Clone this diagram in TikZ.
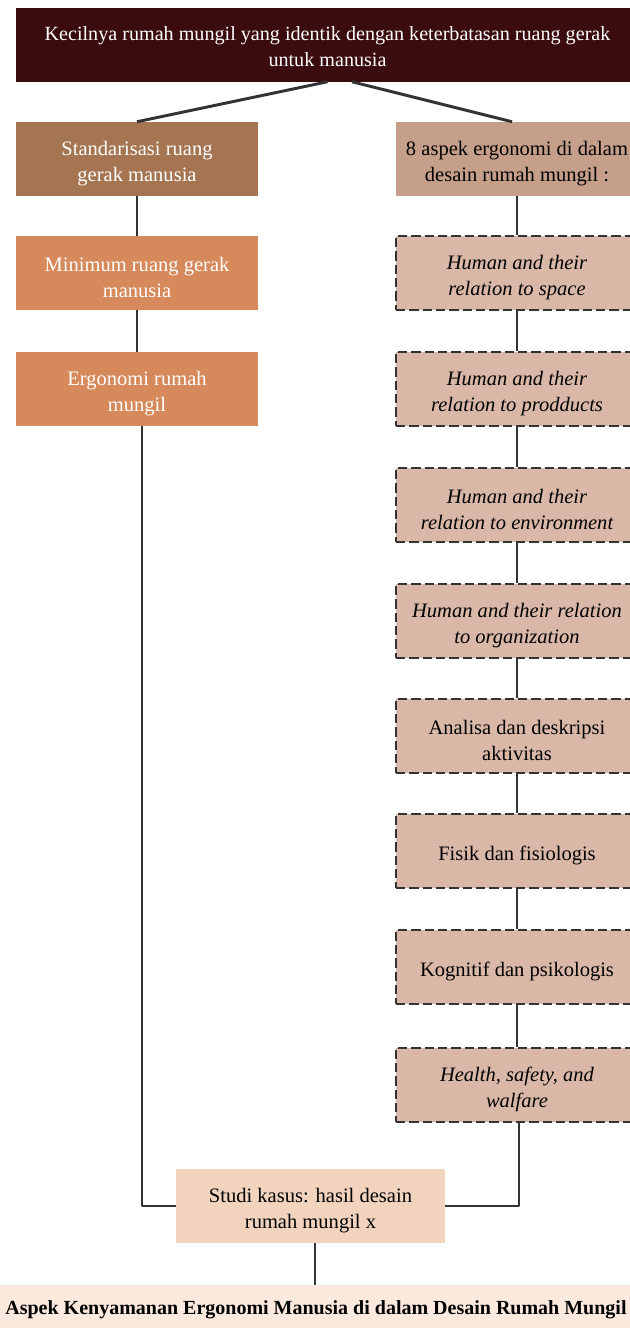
\documentclass[tikz,border=0pt]{standalone}
\usepackage{fontspec}
\setmainfont{Liberation Serif}
\usetikzlibrary{calc}

\definecolor{darkmaroon}{HTML}{3B0C0E}
\definecolor{brownbox}{HTML}{A57552}
\definecolor{orangebox}{HTML}{D6895A}
\definecolor{tanbox}{HTML}{C59F89}
\definecolor{pinkbox}{HTML}{DAB8A8}
\definecolor{peachbox}{HTML}{F1D3BE}
\definecolor{creambox}{HTML}{FBE9DE}
\definecolor{linegray}{HTML}{333333}

% strut that drops the text a little inside its box
\newcommand{\txtdrop}[1][18pt]{\rule{0pt}{#1}}

\begin{document}
\begin{tikzpicture}[x=0.75pt,y=-0.75pt,line join=round]
\tikzstyle{box}=[inner sep=0pt,align=center,font=\fontsize{15.4}{19.5}\selectfont,
  minimum width=181.5pt,minimum height=55.5pt]
\tikzstyle{dashbox}=[box,fill=pinkbox,draw=linegray,line width=1.5pt,dash pattern=on 7pt off 3pt]
\tikzstyle{aspect}=[dashbox,font=\fontsize{15.4}{19.5}\selectfont\itshape]
\tikzstyle{link}=[draw=linegray,line width=2.2pt]
\useasboundingbox (0,0) rectangle (630,1328);
\clip (0,0) rectangle (630,1328);
%top
\node[box,fill=darkmaroon,text=white,minimum width=467pt,font=\fontsize{15.1}{19.5}\selectfont] (kecil) at (327.5,44.5)
  {\txtdrop[13.5pt]Kecilnya rumah mungil yang identik dengan keterbatasan ruang gerak\\untuk manusia};
%left column
\node[box,fill=brownbox,text=white] (standar) at (137,159) {\txtdrop Standarisasi ruang\\gerak manusia};
\node[box,fill=orangebox,text=white] (minimum) at (137,273) {\txtdrop Minimum ruang gerak\\manusia};
\node[box,fill=orangebox,text=white] (ergo) at (137,389) {\txtdrop Ergonomi rumah\\mungil};
%right column
\node[box,fill=tanbox] (delapan) at (517,159) {\txtdrop 8 aspek ergonomi di dalam\\desain rumah mungil :};
\node[aspect] (space) at (517,273) {\txtdrop Human and their\\relation to space};
\node[aspect] (product) at (517,389) {\txtdrop Human and their\\relation to prodducts};
\node[aspect] (environ) at (517,505) {\txtdrop Human and their\\relation to environment};
\node[aspect] (organ) at (517,621) {\txtdrop Human and their relation\\to organization};
\node[dashbox] (analisa) at (517,735.5) {\txtdrop Analisa dan deskripsi\\aktivitas};
\node[dashbox] (fisik) at (517,850.5) {\txtdrop Fisik dan fisiologis};
\node[dashbox] (kognitif) at (517,966.5) {\txtdrop Kognitif dan psikologis};
\node[aspect] (health) at (517,1084.5) {\txtdrop Health, safety, and\\walfare};
%bottom
\node[box,fill=peachbox,minimum width=201.75pt,minimum height=55.5pt] (studi) at (310.5,1206) {\txtdrop Studi kasus: hasil desain\\rumah mungil x};
\node[box,fill=creambox,minimum width=480pt,minimum height=33pt,font=\fontsize{15}{19.5}\selectfont\bfseries] (aspek) at (316,1307)
  {\txtdrop[15pt]Aspek Kenyamanan Ergonomi Manusia di dalam Desain Rumah Mungil};

\draw[link] (kecil.south) -- (standar.north);
\draw[link] ($(kecil.south)+(24.5,0)$) -- ($(delapan.north)+(-5,0)$);
\draw[link] (standar.south) -- (minimum.north);
\draw[link] (minimum.south) -- (ergo.north);
\draw[link] ($(ergo.south)+(5,0)$) |- (studi.west);
\draw[link] (delapan.south) -- (space.north);
\draw[link] (space.south) -- (product.north);
\draw[link] (product.south) -- (environ.north);
\draw[link] (environ.south) -- (organ.north);
\draw[link] (organ.south) -- (analisa.north);
\draw[link] (analisa.south) -- (fisik.north);
\draw[link] (fisik.south) -- (kognitif.north);
\draw[link] (kognitif.south) -- (health.north);
\draw[link] ($(health.south)+(2,0)$) |- (studi.east);
\coordinate (foot) at ($(studi.south)+(4.5,0)$);
\draw[link] (foot) -- (foot |- aspek.north);
\end{tikzpicture}
\end{document}
